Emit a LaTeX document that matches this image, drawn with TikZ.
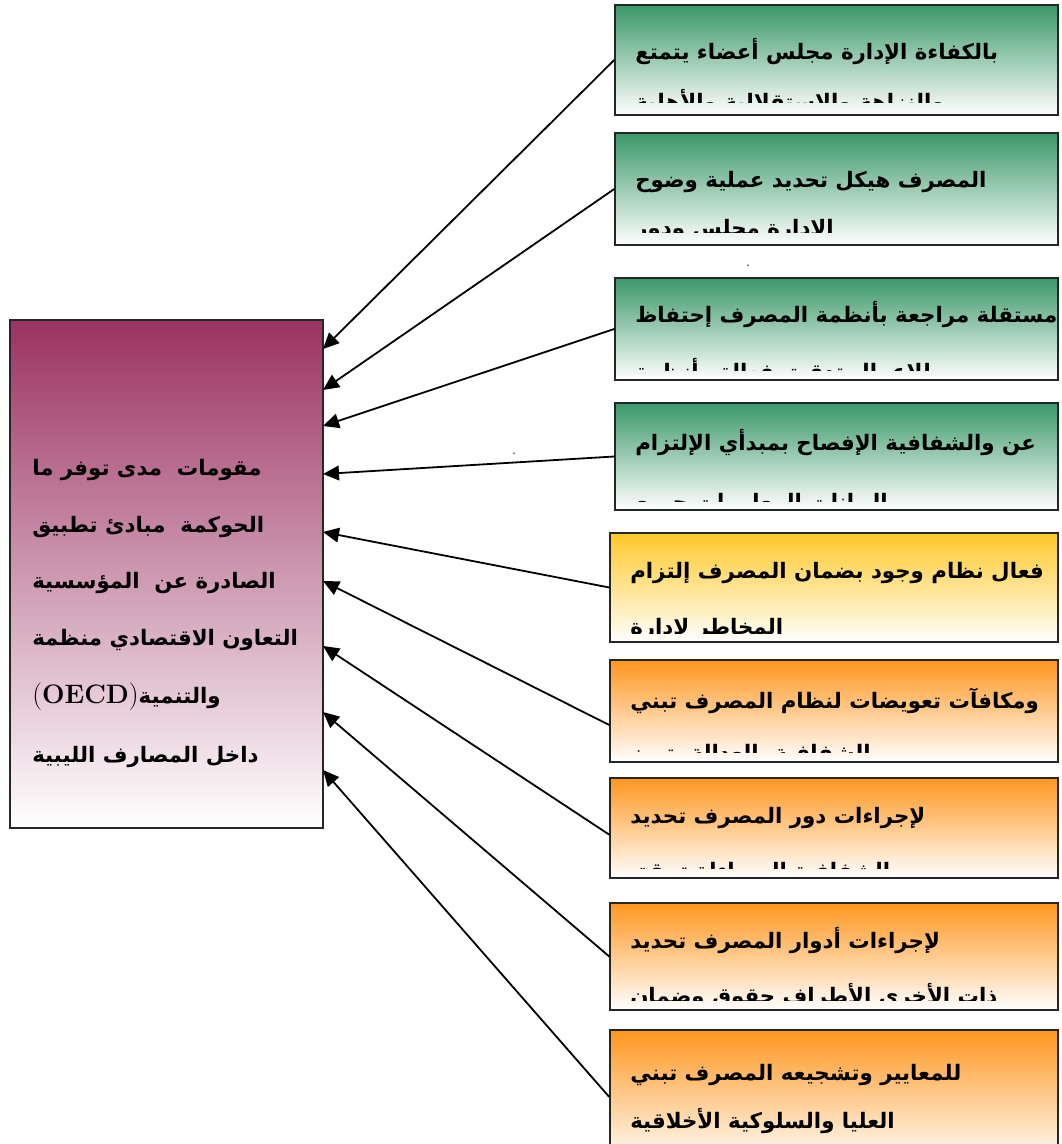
\documentclass[tikz,border=0pt]{standalone}
\usepackage{fontspec}
\newfontfamily\arabicfont[Script=Arabic]{DejaVu Sans}
\TeXXeTstate=1
\usetikzlibrary{arrows.meta}
\definecolor{boxgreen}{RGB}{58,152,104}
\definecolor{boxgold}{RGB}{255,200,40}
\definecolor{boxorange}{RGB}{255,150,30}
\definecolor{boxplum}{RGB}{155,50,98}

\begin{document}
\begin{tikzpicture}[x=0.75pt,y=-0.75pt]
\tikzstyle{every node}+=[inner sep=0pt]
\tikzstyle{cbox}=[draw=black!85, line width=1.1pt, bottom color=white]
\tikzstyle{txt}=[font=\arabicfont\bfseries\fontsize{16}{19}\selectfont, anchor=base west]
\tikzstyle{arr}=[line width=1.35pt, -{Triangle[length=12pt,width=11pt]}]
\useasboundingbox (0,0) rectangle (1061,1144);

\node (main) [cbox, top color=boxplum, minimum width=234.75pt, minimum height=381pt] at (166.5,574) {};
\node (m1) [txt] at (32,475) {\beginR مقومات\ \ مدى توفر ما\endR};
\node (m2) [txt] at (32,532) {\beginR الحوكمة\ \ مبادئ تطبيق\endR};
\node (m3) [txt] at (32,588) {\beginR الصادرة عن\ \ المؤسسية\endR};
\node (m4) [txt] at (32,645) {\beginR التعاون الاقتصادي منظمة\endR};
\node (m5) [txt] at (32,703) {\beginR والتنمية\beginL{\rmfamily\bfseries\fontsize{20}{22}\selectfont$($OECD$)$}\endL\endR};
\node (m6) [txt] at (32,762) {\beginR داخل المصارف الليبية\endR};

\node (b1) [cbox, top color=boxgreen, minimum width=332.25pt, minimum height=82.5pt] at (836.5,60) {};
\node (b2) [cbox, top color=boxgreen, minimum width=332.25pt, minimum height=84pt] at (836.5,189) {};
\node (b3) [cbox, top color=boxgreen, minimum width=332.25pt, minimum height=76.5pt] at (836.5,329) {};
\node (b4) [cbox, top color=boxgreen, minimum width=332.25pt, minimum height=80.25pt] at (836.5,456.5) {};
\node (b5) [cbox, top color=boxgold, minimum width=336pt, minimum height=81.75pt] at (834,587.5) {};
\node (b6) [cbox, top color=boxorange, minimum width=336pt, minimum height=76.5pt] at (834,711) {};
\node (b7) [cbox, top color=boxorange, minimum width=336pt, minimum height=75pt] at (834,828) {};
\node (b8) [cbox, top color=boxorange, minimum width=336pt, minimum height=80.25pt] at (834,956.5) {};
\node (b9) [cbox, top color=boxorange, minimum width=336pt, minimum height=100.5pt] at (834,1097) {};

\begin{scope}
\clip (616,6) rectangle (1057,103);
\node (b1a) [txt] at (635,60) {\beginR بالكفاءة الإدارة مجلس أعضاء يتمتع\endR};
\node (b1b) [txt] at (635,110) {\beginR والنزاهة والاستقلالية والأهلية\endR};
\end{scope}
\begin{scope}
\clip (616,134) rectangle (1057,233);
\node (b2a) [txt] at (635,188) {\beginR المصرف هيكل تحديد عملية وضوح\endR};
\node (b2b) [txt] at (635,236) {\beginR الادارة مجلس ودور\endR};
\end{scope}
\begin{scope}
\clip (616,279) rectangle (1057,370);
\node (b3a) [txt] at (635,323) {\beginR مستقلة مراجعة بأنظمة المصرف إحتفاظ\endR};
\node (b3b) [txt] at (635,379) {\beginR للاعمال تدقيق فعالة وأنظمة\endR};
\end{scope}
\begin{scope}
\clip (616,404) rectangle (1057,501);
\node (b4a) [txt] at (635,450) {\beginR عن والشفافية الإفصاح بمبدأي الإلتزام\endR};
\node (b4b) [txt] at (635,509) {\beginR والبيانات المعلومات جميع\endR};
\end{scope}
\begin{scope}
\clip (611,534) rectangle (1057,633);
\node (b5a) [txt] at (630,578) {\beginR فعال نظام وجود بضمان المصرف إلتزام\endR};
\node (b5b) [txt] at (630,634) {\beginR المخاطر لادارة\endR};
\end{scope}
\begin{scope}
\clip (611,661) rectangle (1057,752);
\node (b6a) [txt] at (630,708) {\beginR ومكافآت تعويضات لنظام المصرف تبني\endR};
\node (b6b) [txt] at (630,760) {\beginR والشفافية بالعدالة يتميز\endR};
\end{scope}
\begin{scope}
\clip (611,779) rectangle (1057,868);
\node (b7a) [txt] at (630,823) {\beginR لإجراءات دور المصرف تحديد\endR};
\node (b7b) [txt] at (630,878) {\beginR والشفافية المساءلة تحقق\endR};
\end{scope}
\begin{scope}
\clip (611,904) rectangle (1057,1000);
\node (b8a) [txt] at (630,948) {\beginR لإجراءات أدوار المصرف تحديد\endR};
\node (b8b) [txt] at (630,1003) {\beginR ذات الأخرى الأطراف حقوق وضمان\endR};
\end{scope}
\node (b9a) [txt] at (630,1080) {\beginR للمعايير وتشجيعه المصرف تبني\endR};
\node (b9b) [txt] at (630,1128) {\beginR العليا والسلوكية الأخلاقية\endR};

\node (dot1) [font=\arabicfont\fontsize{8}{8}\selectfont] at (748,266) {.};
\node (dot2) [font=\arabicfont\fontsize{8}{8}\selectfont] at (514,454) {.};

\coordinate (e1) at (323,349);
\coordinate (e2) at (323,390);
\coordinate (e3) at (323,426);
\coordinate (e4) at (323,474);
\coordinate (e5) at (323,532);
\coordinate (e6) at (323,581);
\coordinate (e7) at (323,646);
\coordinate (e8) at (323,712);
\coordinate (e9) at (323,770);
\draw [arr] (b1.west) -- (e1);
\draw [arr] (b2.west) -- (e2);
\draw [arr] (b3.west) -- (e3);
\draw [arr] (b4.west) -- (e4);
\draw [arr] (b5.west) -- (e5);
\draw [arr] ([yshift=-10.5pt]b6.west) -- (e6);
\draw [arr] ([yshift=-5pt]b7.west) -- (e7);
\draw [arr] (b8.west) -- (e8);
\draw [arr] (b9.west) -- (e9);
\end{tikzpicture}
\end{document}
